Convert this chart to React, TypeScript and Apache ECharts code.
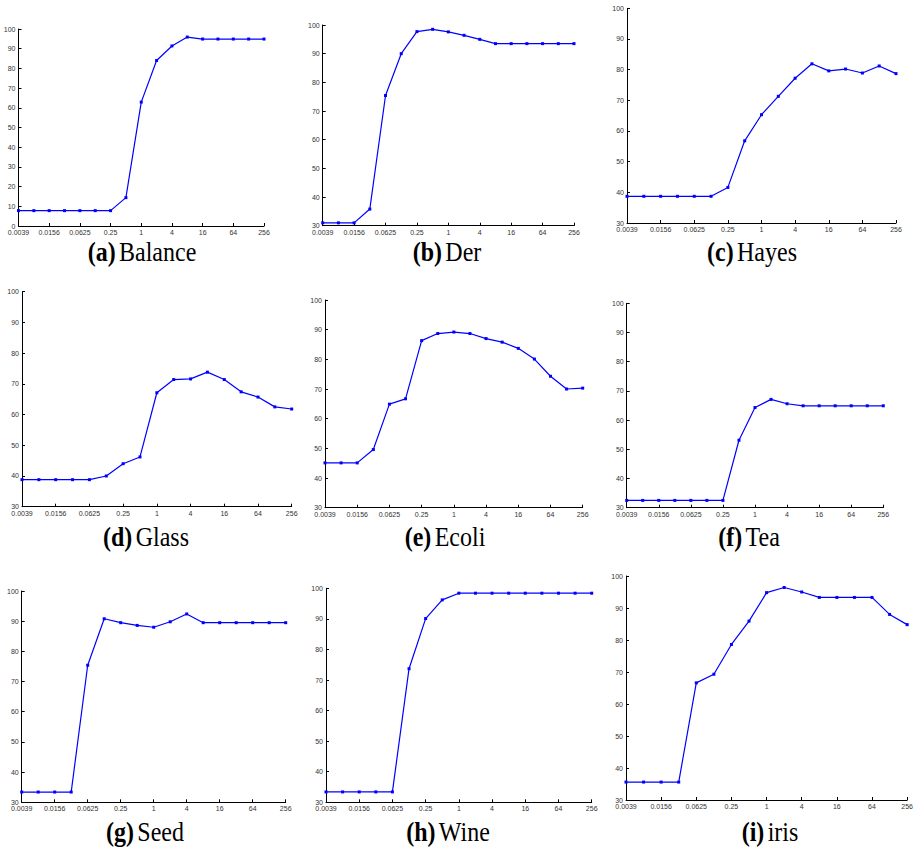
import React, { useEffect, useRef } from "react";
import * as echarts from "echarts";

const xLabels = ["0.0039","0.0078","0.0156","0.0313","0.0625","0.125","0.25","0.5","1","2","4","8","16","32","64","128","256"];

const balance = [7.8,7.8,7.8,7.8,7.8,7.8,7.8,14.4,62.9,84.0,91.4,95.9,94.9,94.9,94.9,94.9,94.9];
const der = [31.0,31.0,31.0,35.8,75.4,90.0,97.7,98.5,97.6,96.4,95.0,93.5,93.5,93.5,93.5,93.5,93.5];
const hayes = [38.7,38.7,38.7,38.7,38.7,38.7,41.6,56.8,65.3,71.3,77.2,81.9,79.6,80.2,78.9,81.2,78.7];
const glass = [38.8,38.8,38.8,38.8,38.8,40.0,44.0,46.2,67.1,71.4,71.6,73.8,71.4,67.4,65.7,62.5,61.8];
const ecoli = [45.1,45.1,45.1,49.6,64.9,66.7,86.3,88.7,89.2,88.7,87.0,85.8,83.7,80.1,74.3,70.0,70.3];
const tea = [32.5,32.5,32.5,32.5,32.5,32.5,32.5,53.1,64.3,67.1,65.6,64.9,64.9,64.9,64.9,64.9,64.9];
const seed = [33.4,33.4,33.4,33.4,75.4,90.8,89.5,88.6,88.0,89.8,92.4,89.5,89.5,89.5,89.5,89.5,89.5];
const wine = [33.4,33.4,33.4,33.4,33.4,73.7,90.1,96.2,98.4,98.4,98.4,98.4,98.4,98.4,98.4,98.4,98.4];
const iris = [35.6,35.6,35.6,35.6,66.6,69.3,78.6,85.9,94.8,96.4,95.0,93.3,93.3,93.3,93.3,88.0,84.8];

const letters = ["(a)","(b)","(c)","(d)","(e)","(f)","(g)","(h)","(i)"];
const names = ["Balance","Der","Hayes","Glass","Ecoli","Tea","Seed","Wine","iris"];
const yMins = [0,30,30,30,30,30,30,30,30];
const allData = [balance, der, hayes, glass, ecoli, tea, seed, wine, iris];

// layout: [left, top, right, bottom] of plot areas, and title centers
const boxes = [
  [18.5, 29, 264, 226],
  [322.7, 25, 574, 225.7],
  [627, 8.3, 896, 223],
  [22, 291.7, 291.7, 506.7],
  [325, 300, 582.7, 507.7],
  [626.7, 303.3, 883.3, 507.7],
  [21.7, 591, 285.7, 802.3],
  [326, 588.3, 591.7, 802.3],
  [626, 576, 907.3, 800],
];
const titlePos = [
  [142, 252], [447, 252], [752, 252],
  [146, 537], [445, 537], [749, 537],
  [145, 832], [448, 832], [770, 832],
];

const serif = "'Liberation Serif', 'Times New Roman', serif";
const sans = "'Liberation Sans', Arial, sans-serif";

export default function App() {
  const ref = useRef<HTMLDivElement>(null);
  useEffect(() => {
    if (!ref.current) return;
    const chart = echarts.init(ref.current, null, { renderer: "svg" });
    const grid: any[] = [];
    const xAxis: any[] = [];
    const yAxis: any[] = [];
    const series: any[] = [];
    const graphic: any[] = [];
    boxes.forEach((b, i) => {
      grid.push({ left: b[0], top: b[1], width: b[2] - b[0], height: b[3] - b[1], containLabel: false });
      xAxis.push({
        type: "category",
        gridIndex: i,
        data: xLabels,
        boundaryGap: false,
        axisLine: { lineStyle: { color: "#000", width: 1 } },
        axisTick: { inside: true, length: 3, interval: 1, lineStyle: { color: "#000" } },
        axisLabel: { interval: 1, fontSize: 7, color: "#333", margin: 3, fontFamily: sans },
        splitLine: { show: false },
      });
      yAxis.push({
        type: "value",
        gridIndex: i,
        min: yMins[i],
        max: 100,
        interval: 10,
        axisLine: { show: true, lineStyle: { color: "#000", width: 1 } },
        axisTick: { show: true, inside: true, length: 3, lineStyle: { color: "#000" } },
        axisLabel: { fontSize: 7, color: "#333", margin: 3, fontFamily: sans },
        splitLine: { show: false },
      });
      series.push({
        type: "line",
        xAxisIndex: i,
        yAxisIndex: i,
        data: allData[i],
        symbol: "rect",
        symbolSize: 3,
        showSymbol: true,
        lineStyle: { color: "#0000ff", width: 1.2 },
        itemStyle: { color: "#0000ff" },
      });
      graphic.push({
        type: "text",
        x: titlePos[i][0],
        y: titlePos[i][1],
        scaleY: 1.15,
        style: {
          text: `{b|${letters[i]}} {n|${names[i]}}`,
          align: "center",
          verticalAlign: "middle",
          rich: {
            b: { fontFamily: serif, fontWeight: "bold", fontSize: 24, fill: "#000" },
            n: { fontFamily: serif, fontSize: 24, fill: "#000" },
          },
        },
      });
    });
    chart.setOption({
      animation: false,
      backgroundColor: "#fff",
      grid,
      xAxis,
      yAxis,
      series,
      graphic,
    });
    return () => chart.dispose();
  }, []);
  return <div ref={ref} style={{ position: "fixed", left: 0, top: 0, width: 916, height: 848 }} />;
}
